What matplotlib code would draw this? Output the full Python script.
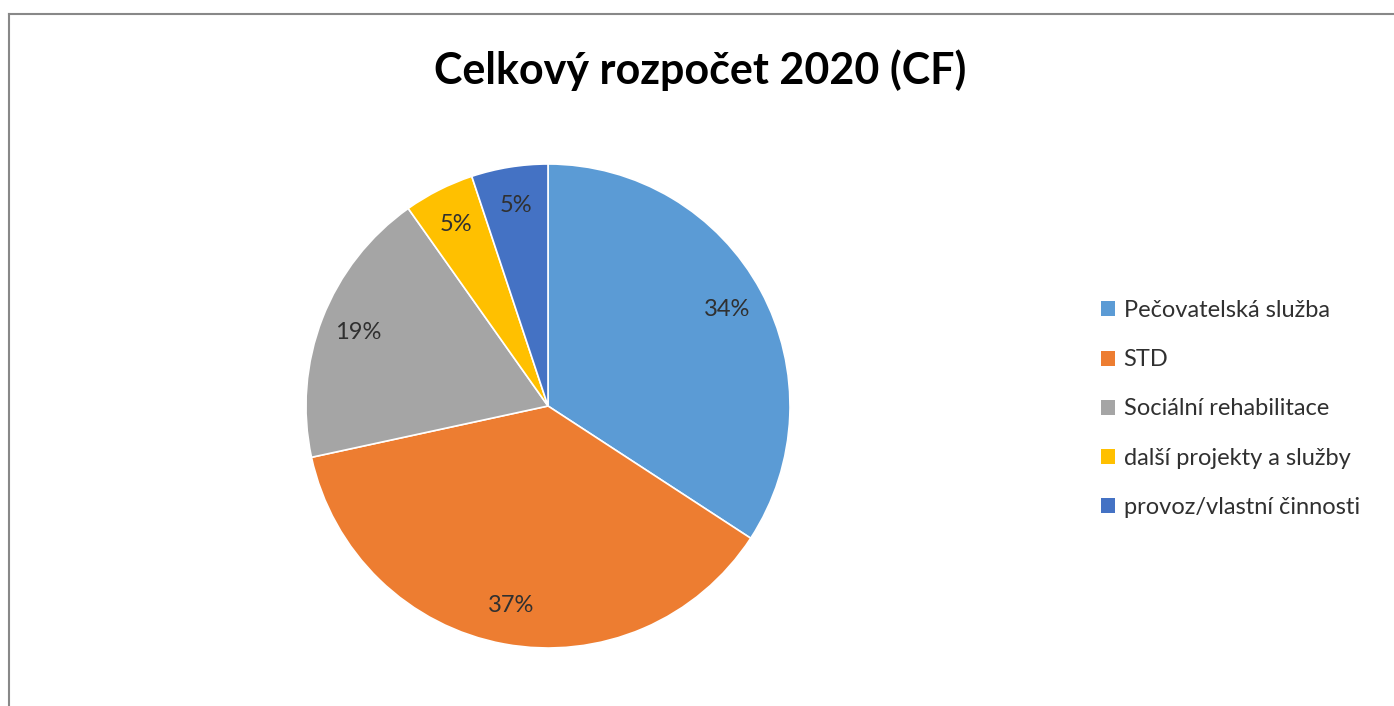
import matplotlib.pyplot as plt
from matplotlib.lines import Line2D
from matplotlib.patches import Patch

# Data
categories = ["Pečovatelská služba", "STD", "Sociální rehabilitace",
              "další projekty a služby", "provoz/vlastní činnosti"]
shares = [34.2, 37.4, 18.6, 4.7, 5.1]
colors = ["#5B9BD5", "#ED7D31", "#A5A5A5", "#FFC000", "#4472C4"]

plt.rcParams['font.family'] = ['Lato', 'DejaVu Sans']

W, H = 1394, 706
fig = plt.figure(figsize=(W / 100, H / 100), dpi=100)

# pie centre (548, 406), radius 242 px
cx, cy, r = 548, 406, 242
ax = fig.add_axes([(cx - r) / W, 1 - (cy + r) / H, 2 * r / W, 2 * r / H])
wedges, texts, autotexts = ax.pie(
    shares, colors=colors, startangle=90, counterclock=False,
    autopct='%.0f%%', pctdistance=0.84, radius=1,
    wedgeprops=dict(edgecolor='white', linewidth=1.2),
    textprops=dict(fontsize=17, color='#303030'))
ax.set_xlim(-1, 1)
ax.set_ylim(-1, 1)
ax.set_aspect('equal')
ax.axis('off')

fig.text(700 / W, 1 - 70 / H, "Celkový rozpočet 2020 (CF)", ha='center', va='center',
         fontsize=31, fontweight='bold', color='black')

handles = [Patch(facecolor=c, edgecolor='none') for c in colors]
fig.legend(handles, categories, loc='upper left',
           bbox_to_anchor=(1080 / W, 1 - 279 / H), frameon=False,
           fontsize=17, handlelength=0.6, handleheight=0.6,
           handletextpad=0.35, labelspacing=1.19, labelcolor='#303030')

# chart border (left and top)
fig.add_artist(Line2D([8.5 / W, 8.5 / W], [0, 1 - 13.5 / H], color='#888888', lw=1.5))
fig.add_artist(Line2D([8.5 / W, 1], [1 - 13.5 / H, 1 - 13.5 / H], color='#888888', lw=1.5))

fig.savefig("out.png", dpi=100, facecolor='white')
